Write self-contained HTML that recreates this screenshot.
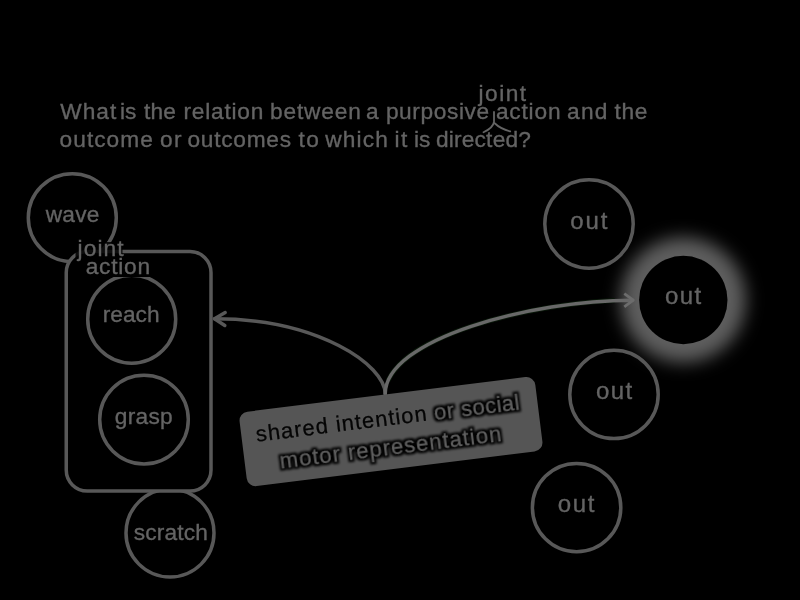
<!DOCTYPE html>
<html><head><meta charset="utf-8"><title>slide</title>
<style>
html,body{margin:0;padding:0;background:#000;}
body{width:800px;height:600px;overflow:hidden;}
svg{display:block;}
text{font-family:"Liberation Sans","DejaVu Sans",sans-serif;fill:#646464;stroke:#646464;stroke-width:0.350;}
.c{fill:#000;stroke:#585858;stroke-width:3.500;}
.a{fill:none;stroke:#585858;stroke-width:3.500;stroke-linecap:round;stroke-linejoin:round;}
</style></head><body>
<svg width="800" height="600" viewBox="0 0 800 600" style="opacity:0.999">
<defs>
<filter id="glow" x="-50%" y="-50%" width="200%" height="200%" color-interpolation-filters="sRGB"><feGaussianBlur stdDeviation="8.500"/></filter>
<filter id="tsh" x="-10%" y="-40%" width="120%" height="180%" color-interpolation-filters="sRGB"><feMorphology in="SourceAlpha" operator="dilate" radius="1.700" result="d"/><feGaussianBlur in="d" stdDeviation="1" result="b"/><feMerge><feMergeNode in="b"/><feMergeNode in="SourceGraphic"/></feMerge></filter>
</defs>
<rect width="800" height="600" fill="#000"/>
<text y="118.6" font-size="22.7"><tspan x="60.25" letter-spacing="1.00">What </tspan><tspan x="119.95" letter-spacing="0.00">is </tspan><tspan x="144.00" letter-spacing="0.12">the </tspan><tspan x="183.40" letter-spacing="0.79">relation </tspan><tspan x="270.00" letter-spacing="0.83">between </tspan><tspan x="365.93" letter-spacing="0.00">a </tspan><tspan x="385.90" letter-spacing="0.61">purposive </tspan><tspan x="495.90" letter-spacing="0.82">action </tspan><tspan x="567.10" letter-spacing="1.20">and </tspan><tspan x="614.40" letter-spacing="0.75">the</tspan></text>
<text y="146.8" font-size="22.7"><tspan x="59.60" letter-spacing="1.03">outcome </tspan><tspan x="160.00" letter-spacing="1.50">or </tspan><tspan x="187.50" letter-spacing="0.73">outcomes </tspan><tspan x="298.50" letter-spacing="1.50">to </tspan><tspan x="325.25" letter-spacing="1.16">which </tspan><tspan x="394.50" letter-spacing="1.50">it </tspan><tspan x="414.00" letter-spacing="0.00">is </tspan><tspan x="435.90" letter-spacing="0.21">directed?</tspan></text>
<path d="M494 112 L494 122 Q493 128 483.500 132.200 M495 123.500 Q500 128.500 510.200 131.400" fill="none" stroke="#646464" stroke-width="1.800" stroke-linecap="round"/>

<circle class="c" cx="72.300" cy="217.700" r="44"/>
<circle class="c" cx="170" cy="533" r="44"/>
<rect x="66.250" y="251.500" width="144.750" height="239.600" rx="21" ry="21" class="c"/>
<rect x="75.500" y="242" width="47" height="19" fill="#000" fill-opacity="0.850"/>
<circle class="c" cx="131.700" cy="319.200" r="44"/>
<rect x="85" y="259" width="66" height="18" fill="#000"/>
<circle class="c" cx="144" cy="419.600" r="44.300"/>
<circle class="c" cx="589" cy="224" r="44.200"/>
<circle class="c" cx="614" cy="394.400" r="44.200"/>
<circle class="c" cx="576.600" cy="507.600" r="44.200"/>

<circle cx="683.300" cy="300" r="62.500" fill="#5e5e5e" filter="url(#glow)"/>
<circle cx="683.300" cy="300" r="44.200" fill="#000"/>

<path class="a" d="M385.200 394 C385.200 365 318 318.800 214.500 318.800"/>
<path class="a" d="M225.200 312.600 L214.500 318.800 L224.800 325.500"/>
<path d="M385.200 394 C385.200 338.600 532 300.100 634.500 300.100" fill="none" stroke="#091709" stroke-width="5" pathLength="100" stroke-dasharray="0 5 88 7"/>
<path class="a" style="stroke:#686868" d="M385.200 394 C385.200 338.600 532 300.100 632.500 300.200"/>
<path class="a" style="stroke:#6c6c6c;stroke-width:2.800;stroke-linecap:butt" d="M624.300 293.600 L633.300 300.200 L624.300 306.800"/>

<text x="45.70" y="222.2" font-size="22.7" letter-spacing="0.27">wave</text>
<text x="77.50" y="256.4" font-size="22.7" letter-spacing="1.12">joint</text>
<text x="85.70" y="274.4" font-size="22.7" letter-spacing="0.76">action</text>
<text x="102.75" y="322" font-size="22.7" letter-spacing="0.00">reach</text>
<text x="114.70" y="423.8" font-size="22.7" letter-spacing="0.32">grasp</text>
<text x="133.80" y="539.7" font-size="22.7" letter-spacing="0.17">scratch</text>
<text x="570.30" y="228.7" font-size="24" letter-spacing="1.85">out</text>
<text x="665.00" y="304" font-size="24" letter-spacing="1.45">out</text>
<text x="596.00" y="399.3" font-size="24" letter-spacing="1.35">out</text>
<text x="557.75" y="512.3" font-size="24" letter-spacing="1.62">out</text>
<text x="478.50" y="101.2" font-size="22.7" letter-spacing="1.50">joint</text>

<g transform="translate(391 431.600) rotate(-7.100)">
<rect x="-149" y="-37.500" width="298" height="75" rx="9" ry="9" fill="#555"/>
<text x="-134.500" y="-6.500" font-size="22" textLength="172" lengthAdjust="spacing" style="fill:#050505;stroke:#050505;stroke-width:0.250">shared intention</text>
<text x="45" y="-6.500" font-size="22" textLength="86" lengthAdjust="spacing" style="fill:#606060;stroke:#606060;stroke-width:0.300" filter="url(#tsh)">or social</text>
<text x="-114" y="23.200" font-size="22" textLength="223" lengthAdjust="spacing" style="fill:#606060;stroke:#606060;stroke-width:0.300" filter="url(#tsh)">motor representation</text>
</g>
</svg>
</body></html>
